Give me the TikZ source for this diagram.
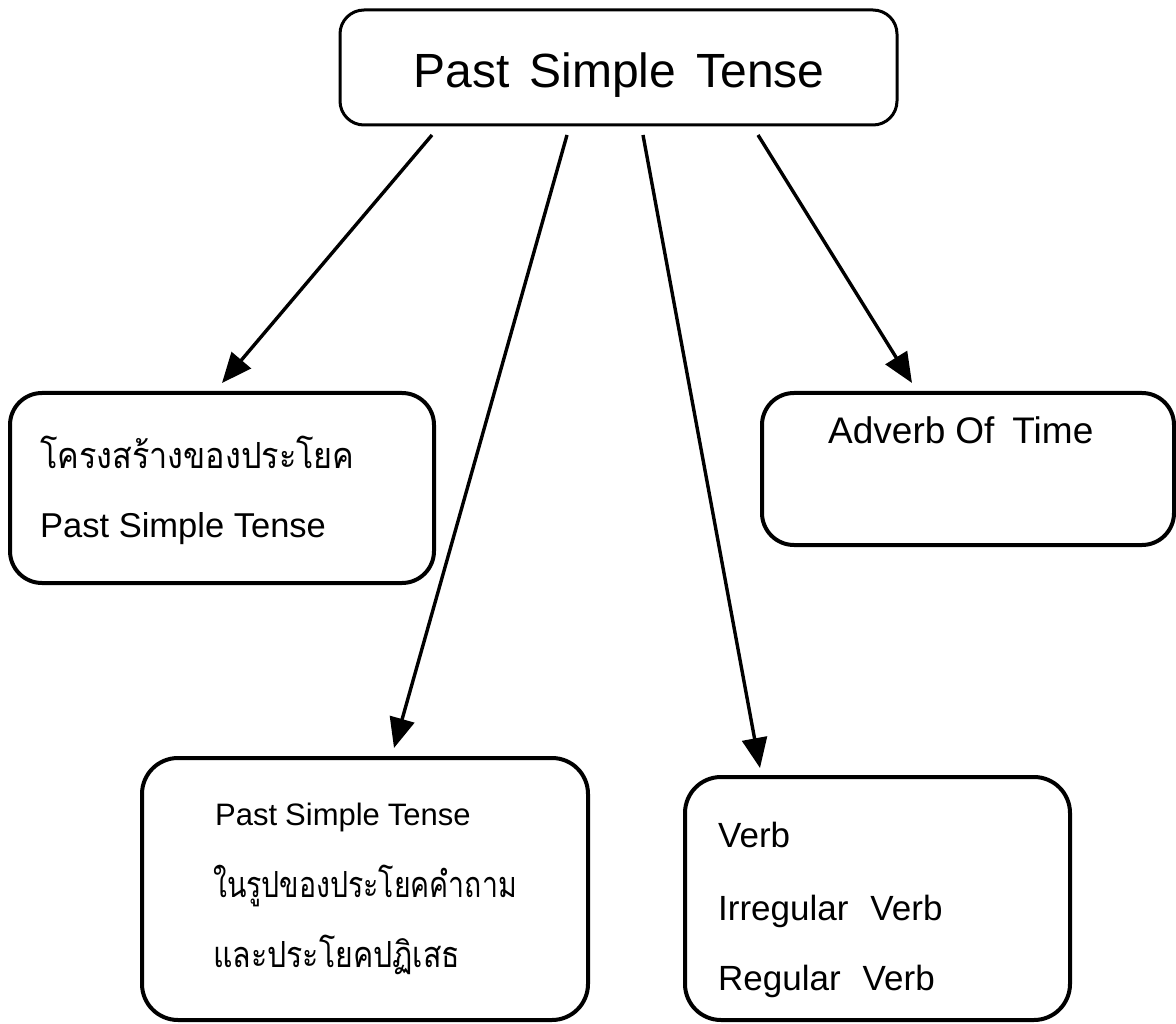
\documentclass[tikz,border=0pt]{standalone}
\usepackage{fontspec}
\usepackage{graphicx}
\setmainfont{Liberation Sans}
\newfontfamily\thaifont[Script=Thai]{Loma}
\usetikzlibrary{arrows.meta}
\begin{document}
\begin{tikzpicture}[x=1pt,y=-1pt,
  box/.style={draw, line width=4pt, rounded corners=32pt, inner sep=0pt},
  lbl/.style={anchor=base west, inner sep=0pt, font=\fontsize{34.5}{40}\selectfont},
  thl/.style={anchor=base west, inner sep=0pt, font=\fontsize{36}{44}\selectfont\thaifont},
  arr/.style={line width=3.4pt, -{Triangle[length=30pt,width=25pt]}}]
\useasboundingbox (0,0) rectangle (1176,1024);
% boxes
\node[box, line width=3pt, rounded corners=24pt, minimum width=557pt, minimum height=115pt] (top) at (618.5,67.5) {};
\node[box, minimum width=424pt, minimum height=190pt] (left) at (222,488) {};
\node[box, minimum width=412pt, minimum height=152pt] (right) at (968,469) {};
\node[box, rounded corners=36pt, minimum width=446pt, minimum height=262pt] (bl) at (365,889) {};
\node[box, rounded corners=36pt, minimum width=385pt, minimum height=243pt] (br) at (877.5,898.5) {};
% texts
\node[anchor=base, inner sep=0pt, font=\fontsize{48}{56}\selectfont] (title) at (619,88) {Past\hspace{20pt}Simple\hspace{20pt}Tense};
\node[thl] (l1) at (40,468) {\scalebox{0.9}[1]{โครงสร้างของประโยค}};
\node[lbl] (l2) at (40,537) {Past Simple Tense};
\node[lbl, font=\fontsize{37}{42}\selectfont] (r1) at (828,443) {Adverb\hspace{10pt}Of\hspace{18pt}Time};
\node[lbl, font=\fontsize{31}{40}\selectfont] (b1) at (215,825) {Past\hspace{8pt}Simple\hspace{8pt}Tense};
\node[thl] (b2) at (213,897) {\scalebox{0.79}[1]{ในรูปของประโยคคำถาม}};
\node[thl] (b3) at (213,967) {\scalebox{0.84}[1]{และประโยคปฏิเสธ}};
\node[lbl, font=\fontsize{35}{40}\selectfont] (c1) at (718,847) {Verb};
\node[lbl, font=\fontsize{35}{40}\selectfont] (c2) at (718,920) {Irregular\hspace{22pt}Verb};
\node[lbl, font=\fontsize{35}{40}\selectfont] (c3) at (718,990) {Regular\hspace{22pt}Verb};
% arrow ends
\coordinate (s1) at (432,135); \coordinate (t1) at (222,383);
\coordinate (s2) at (567,135); \coordinate (t2) at (394,748);
\coordinate (s3) at (643,135); \coordinate (t3) at (760,768);
\coordinate (s4) at (758,135); \coordinate (t4) at (912,383);
\draw[arr] (s1) -- (t1);
\draw[arr] (s2) -- (t2);
\draw[arr] (s3) -- (t3);
\draw[arr] (s4) -- (t4);
\end{tikzpicture}
\end{document}
